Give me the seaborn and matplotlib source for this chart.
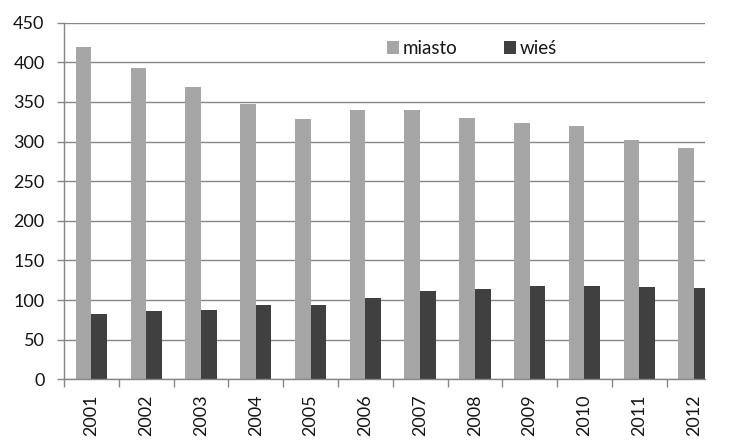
#!/usr/bin/env python3

"""Bar chart: miasto vs wieś, 2001-2012."""

import seaborn as sns
import pandas as pd
import matplotlib.pyplot as plt
from matplotlib.ticker import FixedLocator

# DATA
years = ["2001", "2002", "2003", "2004", "2005", "2006",
         "2007", "2008", "2009", "2010", "2011", "2012"]
miasto = [419, 393, 369, 347, 328, 340, 340, 330, 323, 320, 302, 292]
wies = [82, 86, 87, 94, 94, 103, 111, 114, 118, 118, 116, 115]
groups = ["miasto", "wieś"]
y_ticks = [0, 50, 100, 150, 200, 250, 300, 350, 400, 450]

# long form table for seaborn
DataSet = pd.DataFrame({
    "rok": years * 2,
    "grupa": [groups[0]] * len(years) + [groups[1]] * len(years),
    "wartosc": miasto + wies,
})

# THEME
sns.set_style("white")
plt.rcParams["font.family"] = ["Lato", "DejaVu Sans"]
plt.rcParams["font.size"] = 13

Pal = {"miasto": "#a6a6a6", "wieś": "#404040"}
grid_col = "#868686"
txt_col = "#151515"

fig = plt.figure(figsize=(7.49, 4.48), dpi=100)
ax = fig.add_axes([0.0854, 0.1533, 0.8559, 0.7961])

sns.barplot(
    data=DataSet,
    x="rok",
    y="wartosc",
    hue="grupa",
    hue_order=groups,
    palette=Pal,
    width=0.57,
    gap=0,
    saturation=1,
    edgecolor="none",
    linewidth=0,
    ax=ax,
    legend=True,
)

# axes / grid
ax.set_ylim(0, 450)
ax.set_xlim(-0.5, 11.2)
ax.set_yticks(y_ticks)
ax.yaxis.grid(True, color=grid_col, linewidth=1)
ax.set_axisbelow(True)
ax.set_xlabel("")
ax.set_ylabel("")

for side in ["top", "right"]:
    ax.spines[side].set_visible(False)
for side in ["left", "bottom"]:
    ax.spines[side].set_color(grid_col)
    ax.spines[side].set_linewidth(1)

ax.tick_params(axis="y", which="major", length=5, width=1, color=grid_col,
               direction="out", pad=9, labelsize=13, labelcolor=txt_col, left=True)
ax.tick_params(axis="x", which="major", length=0, pad=11, labelsize=13,
               labelcolor=txt_col, labelrotation=90)
# category boundary tick marks on x
ax.xaxis.set_minor_locator(FixedLocator([i - 0.5 for i in range(len(years) + 1)]))
ax.tick_params(axis="x", which="minor", length=6, width=1, color=grid_col,
               direction="out", bottom=True)
for lab in ax.get_xticklabels():
    lab.set_verticalalignment("top")

# legend
leg = ax.legend(
    loc="center left",
    bbox_to_anchor=(0.504, 0.927),
    ncol=2,
    frameon=False,
    borderpad=0,
    borderaxespad=0,
    handlelength=0.64,
    handleheight=0.64,
    handletextpad=0.2,
    columnspacing=2.45,
    fontsize=13.5,
)
for t in leg.get_texts():
    t.set_color(txt_col)

plt.savefig("out.png", dpi=100)
